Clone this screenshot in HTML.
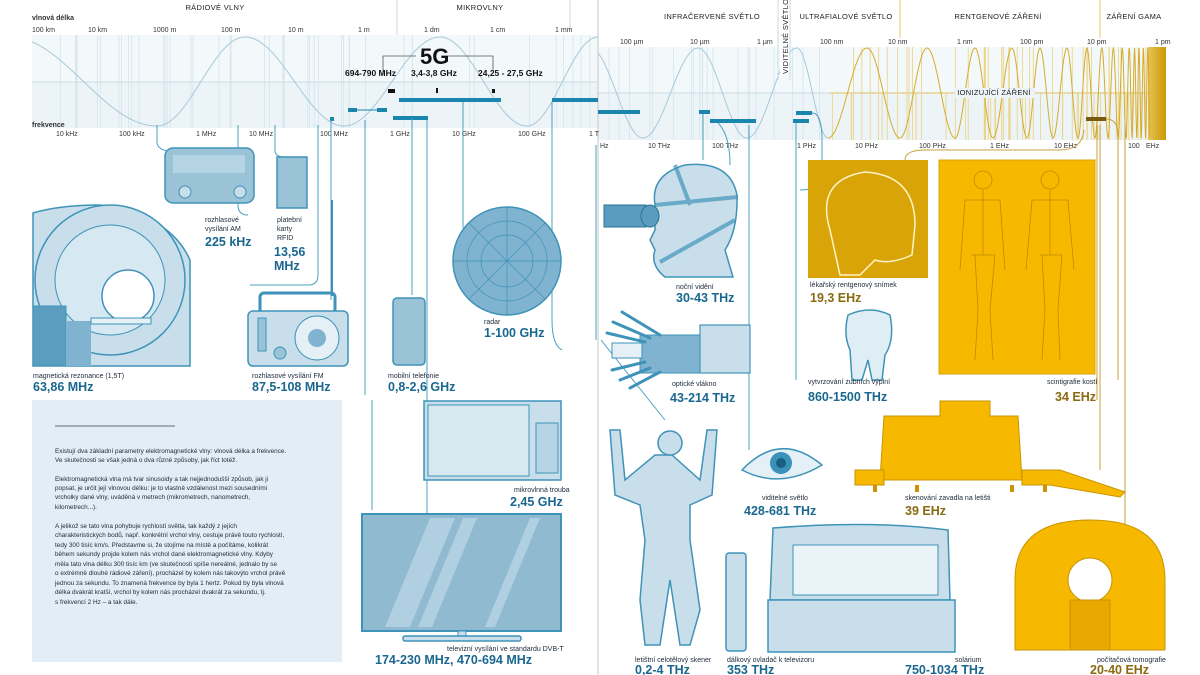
<!DOCTYPE html>
<html><head><meta charset="utf-8"><style>
html,body{margin:0;padding:0;background:#fff;}
svg{display:block;font-family:"Liberation Sans",sans-serif;}
.s{font-size:7px;fill:#1d2a3a;}
.b{font-size:12.5px;font-weight:bold;fill:#1a6790;}
.y{font-size:12.5px;font-weight:bold;fill:#8a6a10;}
.ax{font-size:7px;fill:#333;}
.hd{font-size:7.5px;fill:#222;letter-spacing:0.3px;}
.ln{fill:none;stroke:#4aa0c2;stroke-width:1;}
.yl{fill:none;stroke:#c9a23a;stroke-width:1;}
.dev{fill:#c8dfeb;stroke:#3f93b8;stroke-width:1.5;}
.dev2{fill:#9ac3d8;stroke:#3f93b8;stroke-width:1.5;}
.gold{fill:#f7b900;stroke:#c89400;stroke-width:1;}
</style></head><body>
<svg width="1200" height="675" viewBox="0 0 1200 675" xmlns="http://www.w3.org/2000/svg">
<defs>
<linearGradient id="gg" x1="0" x2="1"><stop offset="0" stop-color="#e8c25a"/><stop offset="1" stop-color="#c99a00"/></linearGradient>
<clipPath id="cl"><rect x="32" y="30" width="566" height="100"/></clipPath>
<clipPath id="cr"><rect x="598" y="40" width="232" height="102"/></clipPath>
</defs>
<!-- left band -->
<rect x="32" y="35" width="566" height="93" fill="#edf4f8"/>
<rect x="32" y="35" width="566" height="47" fill="#f3f8fa"/>
<line x1="32" y1="82" x2="598" y2="82" stroke="#c8dbe6"/>
<!-- right band -->
<rect x="598" y="47" width="568" height="93" fill="#edf4f8"/>
<rect x="598" y="47" width="568" height="46" fill="#f3f8fa"/>
<line x1="598" y1="93" x2="830" y2="93" stroke="#c8dbe6"/>
<line x1="830" y1="93" x2="1150" y2="93" stroke="#e0c060"/>
<g id="vl" stroke="#d4e4ed" stroke-width="0.8"></g>
<g id="vy" stroke="#ebd27f" stroke-width="0.8"></g>
<rect x="1148" y="47" width="18" height="93" fill="url(#gg)"/>
<path id="bw" fill="none" stroke="#a6c9dc" stroke-width="1" clip-path="url(#cl)"/>
<path id="bw2" fill="none" stroke="#a6c9dc" stroke-width="1" clip-path="url(#cr)"/>
<path id="yw" fill="none" stroke="#d6ac2a" stroke-width="1"/>
<rect x="955" y="88" width="80" height="10" fill="#edf4f8"/>
<!-- dividers -->
<line x1="397" y1="0" x2="397" y2="35" stroke="#c8dbe6"/>
<line x1="570" y1="0" x2="570" y2="30" stroke="#c8dbe6"/>
<line x1="598" y1="0" x2="598" y2="675" stroke="#c7c7c7"/>
<line x1="778" y1="0" x2="778" y2="80" stroke="#c8dbe6"/>
<line x1="790" y1="0" x2="790" y2="80" stroke="#c8dbe6"/>
<line x1="900" y1="0" x2="900" y2="38" stroke="#e7c86a"/>
<line x1="1100" y1="0" x2="1100" y2="38" stroke="#e7c86a"/>
<!-- headers -->
<text class="hd" x="215" y="10" text-anchor="middle">RÁDIOVÉ VLNY</text>
<text class="hd" x="480" y="10" text-anchor="middle">MIKROVLNY</text>
<text class="hd" x="712" y="19" text-anchor="middle">INFRAČERVENÉ SVĚTLO</text>
<text class="hd" x="846" y="19" text-anchor="middle">ULTRAFIALOVÉ SVĚTLO</text>
<text class="hd" x="998" y="19" text-anchor="middle">RENTGENOVÉ ZÁŘENÍ</text>
<text class="hd" x="1134" y="19" text-anchor="middle">ZÁŘENÍ GAMA</text>
<rect x="780" y="8" width="9" height="68" fill="#fff"/>
<text class="hd" x="0" y="0" transform="translate(788,74) rotate(-90)">VIDITELNÉ SVĚTLO</text>
<text class="hd" x="994" y="95" text-anchor="middle">IONIZUJÍCÍ ZÁŘENÍ</text>
<text class="ax" x="32" y="20" font-weight="bold">vlnová délka</text>
<text class="ax" x="32" y="127" font-weight="bold">frekvence</text>
<g class="ax">
<text x="32" y="32">100 km</text><text x="88" y="32">10 km</text><text x="153" y="32">1000 m</text><text x="221" y="32">100 m</text><text x="288" y="32">10 m</text><text x="358" y="32">1 m</text><text x="424" y="32">1 dm</text><text x="490" y="32">1 cm</text><text x="555" y="32">1 mm</text>
<text x="620" y="44">100 µm</text><text x="690" y="44">10 µm</text><text x="757" y="44">1 µm</text><text x="820" y="44">100 nm</text><text x="888" y="44">10 nm</text><text x="957" y="44">1 nm</text><text x="1020" y="44">100 pm</text><text x="1087" y="44">10 pm</text><text x="1155" y="44">1 pm</text>
<text x="56" y="136">10 kHz</text><text x="119" y="136">100 kHz</text><text x="196" y="136">1 MHz</text><text x="249" y="136">10 MHz</text><text x="320" y="136">100 MHz</text><text x="390" y="136">1 GHz</text><text x="452" y="136">10 GHz</text><text x="518" y="136">100 GHz</text><text x="589" y="136">1 T</text>
<text x="600" y="148">Hz</text><text x="648" y="148">10 THz</text><text x="712" y="148">100 THz</text><text x="797" y="148">1 PHz</text><text x="855" y="148">10 PHz</text><text x="919" y="148">100 PHz</text><text x="990" y="148">1 EHz</text><text x="1054" y="148">10 EHz</text><text x="1128" y="148">100</text><text x="1146" y="148">EHz</text>
</g>
<!-- 5G -->
<text x="420" y="64" font-size="22" font-weight="bold" fill="#111">5G</text>
<path d="M383,75 V56 H416 M448,56 H493 V71" fill="none" stroke="#555" stroke-width="0.8"/>
<text x="345" y="76" font-size="8.5" font-weight="bold" fill="#111">694-790 MHz</text>
<text x="411" y="76" font-size="8.5" font-weight="bold" fill="#111">3,4-3,8 GHz</text>
<text x="478" y="76" font-size="8.5" font-weight="bold" fill="#111">24,25 - 27,5 GHz</text>
<rect x="388" y="89" width="7" height="4" fill="#111"/><rect x="436" y="88" width="2" height="5" fill="#111"/><rect x="492" y="89" width="3" height="4" fill="#111"/>
<!-- bars -->
<g fill="#1a86ad">
<rect x="399" y="98" width="102" height="4"/><rect x="552" y="98" width="46" height="4"/>
<rect x="348" y="108" width="9" height="4"/><rect x="377" y="108" width="10" height="4"/><rect x="357" y="109.5" width="20" height="1"/>
<rect x="330" y="117" width="4" height="4"/><rect x="393" y="116" width="35" height="4"/>
<rect x="598" y="110" width="42" height="4"/><rect x="699" y="110" width="11" height="4"/><rect x="710" y="119" width="46" height="4"/>
<rect x="796" y="111" width="16" height="4"/><rect x="793" y="119" width="16" height="4"/>
</g>
<rect x="1086" y="117" width="20" height="4" fill="#7a5a10"/>
<!-- connectors -->
<g class="ln">
<path d="M157,125 V142 Q157,150 172,152"/>
<path d="M238,125 V205 Q238,215 248,215"/>
<path d="M275,125 V150 Q275,157 285,157"/>
<path d="M318,125 V275 Q318,285 308,285 L250,285"/>
<path d="M331,120 V300"/>
<path d="M365,120 V395"/><path d="M372,400 V510"/>
<path d="M412,118 V295"/>
<path d="M427,120 V600"/>
<path d="M463,102 V228"/>
<path d="M552,102 V320 Q552,345 562,350"/>
<path d="M703,114 V160"/><path d="M718,123 Q730,135 730,165"/>
<path d="M749,125 V450"/><path d="M812,113 Q822,113 822,140 V175 Q822,190 800,190"/>
<path d="M796,123 V380"/>
<path d="M596,145 V340"/>
<path d="M601,340 L665,420"/>
</g>
<g class="yl">
<path d="M1106,119 Q1118,119 1118,135 V380"/><path d="M1097,125 V400"/><path d="M1100,125 V470"/><path d="M1084,130 Q1082,150 1060,150 L925,150 Q905,150 905,160"/><path d="M1125,125 V560"/>
</g>
<!-- MRI -->
<path class="dev" d="M33,213 Q60,205 100,205 Q170,215 190,260 L190,366 L33,366 Z"/>
<circle cx="110" cy="280" r="75" class="dev"/>
<circle cx="110" cy="280" r="55" fill="#d6e8f1" stroke="#3f93b8"/>
<circle cx="128" cy="296" r="26" fill="#fff" stroke="#3f93b8" stroke-width="1.5"/>
<rect x="33" y="306" width="33" height="60" fill="#5b9dbf" stroke="#3f93b8"/>
<rect x="66" y="321" width="25" height="45" fill="#7fb3cf"/>
<rect x="91" y="318" width="60" height="6" fill="#e4f0f6" stroke="#3f93b8"/>
<!-- AM radio -->
<rect x="165" y="148" width="89" height="55" rx="8" class="dev2"/>
<rect x="173" y="155" width="72" height="18" fill="#b5d4e4"/>
<circle cx="185" cy="192" r="6" fill="#c8dfeb" stroke="#3f93b8"/><circle cx="240" cy="192" r="6" fill="#c8dfeb" stroke="#3f93b8"/>
<text class="s" x="205" y="222">rozhlasové</text><text class="s" x="205" y="231">vysílání AM</text>
<text class="b" x="205" y="246">225 kHz</text>
<!-- card -->
<rect x="277" y="157" width="30" height="51" class="dev2"/>
<text class="s" x="277" y="222">platební</text><text class="s" x="277" y="231">karty</text><text class="s" x="277" y="240">RFID</text>
<text class="b" x="274" y="256">13,56</text><text class="b" x="274" y="270">MHz</text>
<text class="s" x="33" y="378">magnetická rezonance (1,5T)</text><text class="b" x="33" y="391">63,86 MHz</text>
<!-- FM radio -->
<line x1="332" y1="200" x2="332" y2="296" stroke="#3f93b8" stroke-width="2"/>
<rect x="260" y="293" width="75" height="20" rx="4" fill="none" stroke="#3f93b8" stroke-width="3"/>
<rect x="248" y="311" width="100" height="55" rx="5" class="dev"/>
<circle cx="317" cy="338" r="22" fill="#e4f0f6" stroke="#3f93b8"/><circle cx="317" cy="338" r="9" fill="#7fb3cf"/>
<rect x="258" y="318" width="8" height="33" fill="#9ac3d8" stroke="#3f93b8"/><circle cx="280" cy="353" r="6" fill="#9ac3d8" stroke="#3f93b8"/>
<text class="s" x="252" y="378">rozhlasové vysílání FM</text><text class="b" x="252" y="391">87,5-108 MHz</text>
<!-- phone -->
<rect x="393" y="298" width="32" height="67" rx="4" class="dev2"/>
<text class="s" x="388" y="378">mobilní telefonie</text><text class="b" x="388" y="391">0,8-2,6 GHz</text>
<!-- radar -->
<circle cx="507" cy="261" r="54" fill="#7fb3cf" stroke="#3f93b8" stroke-width="1.5"/>
<circle cx="507" cy="261" r="40" fill="none" stroke="#3f93b8" stroke-width="0.7"/><circle cx="507" cy="261" r="26" fill="none" stroke="#3f93b8" stroke-width="0.7"/>
<path d="M453,261 H561 M507,207 V315 M469,223 L545,299 M545,223 L469,299" stroke="#3f93b8" stroke-width="0.7"/>
<text class="s" x="484" y="324">radar</text><text class="b" x="484" y="337">1-100 GHz</text>
<!-- text box -->
<rect x="32" y="400" width="310" height="262" fill="#e2edf5"/>
<line x1="55" y1="426" x2="175" y2="426" stroke="#8a98a3" stroke-width="1.5"/>
<g font-size="6.4" fill="#1d2a3a">
<text x="55" y="453">Existují dva základní parametry elektromagnetické vlny: vlnová délka a frekvence.</text>
<text x="55" y="462">Ve skutečnosti se však jedná o dva různé způsoby, jak říct totéž.</text>
<text x="55" y="481">Elektromagnetická vlna má tvar sinusoidy a tak nejjednodušší způsob, jak ji</text>
<text x="55" y="490">popsat, je určit její vlnovou délku: je to vlastně vzdálenost mezi sousedními</text>
<text x="55" y="499">vrcholky dané vlny, uváděná v metrech (mikrometrech, nanometrech,</text>
<text x="55" y="509">kilometrech...).</text>
<text x="55" y="528">A jelikož se tato vlna pohybuje rychlostí světla, tak každý z jejích</text>
<text x="55" y="537">charakteristických bodů, např. konkrétní vrchol vlny, cestuje právě touto rychlostí,</text>
<text x="55" y="547">tedy 300 tisíc km/s. Představme si, že stojíme na místě a počítáme, kolikrát</text>
<text x="55" y="556">během sekundy projde kolem nás vrchol dané elektromagnetické vlny. Kdyby</text>
<text x="55" y="566">měla tato vlna délku 300 tisíc km (ve skutečnosti spíše nereálné, jednalo by se</text>
<text x="55" y="575">o extrémně dlouhé rádiové záření), procházel by kolem nás takovýto vrchol právě</text>
<text x="55" y="585">jednou za sekundu. To znamená frekvence by byla 1 hertz. Pokud by byla vlnová</text>
<text x="55" y="594">délka dvakrát kratší, vrchol by kolem nás procházel dvakrát za sekundu, tj.</text>
<text x="55" y="604">s frekvencí 2 Hz – a tak dále.</text>
</g>
<!-- microwave -->
<rect x="424" y="401" width="137" height="79" class="dev"/>
<rect x="428" y="405" width="101" height="71" fill="#d8e8f1" stroke="#3f93b8"/>
<rect x="536" y="423" width="22" height="50" fill="#b5d4e4" stroke="#3f93b8"/>
<text class="s" x="514" y="492">mikrovlnná trouba</text><text class="b" x="510" y="506">2,45 GHz</text>
<!-- TV -->
<rect x="362" y="514" width="199" height="117" fill="#8fbad0" stroke="#3f93b8" stroke-width="2"/>
<path d="M430,518 L455,518 L410,627 L385,627 Z M463,518 L477,518 L432,627 L418,627 Z M530,518 L540,518 L495,627 L485,627 Z" fill="#b0cfe0"/>
<rect x="458" y="631" width="8" height="6" fill="#c8dfeb" stroke="#3f93b8"/>
<rect x="403" y="636" width="118" height="5" rx="2" class="dev"/>
<text class="s" x="447" y="651">televizní vysílání ve standardu DVB-T</text>
<text class="b" x="375" y="664">174-230 MHz, 470-694 MHz</text>
<!-- night vision head -->
<path class="dev" d="M655,205 Q650,175 685,165 Q730,160 737,195 Q738,230 725,250 L733,277 L665,277 Q650,265 655,250 L650,240 L655,230 Z"/>
<rect x="604" y="205" width="42" height="22" fill="#5a9cc0" stroke="#2e6f91"/>
<ellipse cx="650" cy="216" rx="9" ry="11" fill="#5a9cc0" stroke="#2e6f91"/>
<path d="M655,205 L738,197 M660,262 L735,220 M675,165 L690,205" stroke="#3f93b8" stroke-width="4" fill="none" opacity="0.7"/>
<text class="s" x="676" y="289">noční vidění</text><text class="b" x="676" y="302">30-43 THz</text>
<!-- fiber -->
<rect x="700" y="325" width="50" height="48" fill="#c8dfeb" stroke="#3f93b8" stroke-width="1.2"/>
<path d="M640,335 H700 V373 H640 Z" fill="#7fb3cf" stroke="#3f93b8"/>
<rect x="612" y="343" width="30" height="15" fill="#e4f0f6" stroke="#3f93b8"/>
<g stroke="#3f93b8" stroke-width="3" stroke-linecap="round"><line x1="622" y1="312" x2="660" y2="335"/><line x1="613" y1="322" x2="650" y2="338"/><line x1="607" y1="333" x2="645" y2="342"/><line x1="612" y1="370" x2="645" y2="362"/><line x1="620" y1="380" x2="650" y2="368"/><line x1="630" y1="388" x2="660" y2="372"/></g>
<text class="s" x="672" y="386">optické vlákno</text><text class="b" x="670" y="402">43-214 THz</text>
<!-- man -->
<path class="dev" d="M610,430 L620,430 L625,480 L655,455 L672,455 L700,480 L707,430 L717,430 L712,495 L690,505 L690,540 L700,610 L690,645 L680,645 L670,580 L660,645 L645,645 L640,600 L645,540 L640,505 L615,495 Z"/>
<circle cx="670" cy="443" r="12" class="dev"/>
<text class="s" x="635" y="662">letištní celotělový skener</text><text class="b" x="635" y="674">0,2-4 THz</text>
<!-- remote -->
<rect x="726" y="553" width="20" height="98" rx="3" class="dev"/>
<text class="s" x="727" y="662">dálkový ovladač k televizoru</text><text class="b" x="727" y="674">353 THz</text>
<!-- eye -->
<path d="M742,470 Q780,430 822,465 Q780,490 742,470 Z" fill="#e4f0f6" stroke="#3f93b8" stroke-width="1.5"/>
<circle cx="781" cy="463" r="11" fill="#3a92ba"/><circle cx="781" cy="463" r="5" fill="#1a5f80"/>
<text class="s" x="762" y="500">viditelné světlo</text><text class="b" x="744" y="515">428-681 THz</text>
<!-- solarium -->
<path class="dev" d="M773,528 Q870,520 948,530 L950,600 L770,600 Z"/>
<rect x="793" y="545" width="145" height="50" fill="#eaf3f8" stroke="#3f93b8"/>
<rect x="768" y="600" width="187" height="52" class="dev"/>
<text class="s" x="955" y="662">solárium</text><text class="b" x="905" y="674">750-1034 THz</text>
<!-- skull -->
<rect x="808" y="160" width="120" height="118" fill="#d9a407"/>
<path d="M830,230 Q815,180 865,172 Q915,175 915,225 L912,255 Q890,265 875,260 L860,275 L840,275 Z" fill="none" stroke="#fff4c8" stroke-width="1.5"/>
<text class="s" x="810" y="287">lékařský rentgenový snímek</text><text class="y" x="810" y="302">19,3 EHz</text>
<!-- tooth -->
<path d="M848,315 Q870,305 890,315 Q895,340 885,355 L882,380 L872,380 L868,360 L862,380 L852,380 L850,350 Q843,335 848,315 Z" fill="#dfedf5" stroke="#3f93b8" stroke-width="1.5"/>
<text class="s" x="808" y="384">vytvrzování zubních výplní</text><text class="b" x="808" y="401">860-1500 THz</text>
<!-- skeleton -->
<rect x="939" y="160" width="156" height="214" fill="#f7b900" stroke="#d9a407"/>
<g fill="none" stroke="#c08a00" stroke-width="0.8">
<circle cx="983" cy="180" r="9"/><path d="M983,190 V255 M965,200 H1000 M965,200 L960,270 M1000,200 L1005,270 M972,255 H995 L990,310 L993,360 M975,255 L978,310 L975,360"/>
<circle cx="1050" cy="180" r="9"/><path d="M1050,190 V255 M1032,200 H1068 M1032,200 L1026,270 M1068,200 L1074,270 M1040,255 H1062 L1058,310 L1060,360 M1042,255 L1045,310 L1042,360"/>
</g>
<text class="s" x="1047" y="384">scintigrafie kostí</text><text class="y" x="1055" y="401">34 EHz</text>
<!-- baggage scanner -->
<path class="gold" d="M940,401 H990 V416 H1018 L1022,480 H880 L884,416 H940 Z"/>
<path class="gold" d="M855,470 H884 V485 H855 Z M1022,470 H1060 L1125,492 L1120,497 L1050,485 H1022 Z"/>
<g fill="#c89400"><rect x="873" y="485" width="4" height="7"/><rect x="915" y="485" width="4" height="7"/><rect x="1010" y="485" width="4" height="7"/><rect x="1043" y="485" width="4" height="7"/></g>
<text class="s" x="905" y="500">skenování zavadla na letišti</text><text class="y" x="905" y="515">39 EHz</text>
<!-- CT -->
<path class="gold" d="M1015,650 V580 Q1015,520 1090,520 Q1165,520 1165,580 V650 Z"/>
<circle cx="1090" cy="580" r="22" fill="#fff" stroke="#c89400"/>
<rect x="1070" y="600" width="40" height="50" fill="#e8a800" stroke="#c89400"/>
<text class="s" x="1097" y="662">počítačová tomografie</text><text class="y" x="1090" y="674">20-40 EHz</text>
</svg>
<script>
(function(){
 var ns="http://www.w3.org/2000/svg";
 function build(ext,top,bot,startTop){
   var d="";var mid=(top+bot)/2,a=(bot-top)/2;
   for(var i=0;i < ext.length-1;i++){
     var x0=ext[i],x1=ext[i+1];
     var isTop=((i%2)==0)==startTop;
     for(var x=x0;x <= x1;x+=0.5){
       var t=(x-x0)/(x1-x0);var c=Math.cos(Math.PI*t);
       var y=isTop? mid-a*c : mid+a*c;
       d+=(d?"L":"M")+x.toFixed(1)+","+y.toFixed(1);
     }
   }
   return d;
 }
 document.getElementById("bw").setAttribute("d",build([10,157,245,344,440,527,598],37,126,true));
 document.getElementById("bw2").setAttribute("d",build([590,643,698,747,797,828],48,138,true));
 var ye=[828,867,900,927,955,975,993,1012,1027,1040,1053,1067,1078,1087];
 var h=9,x=1087;while(x < 1148){h=Math.max(2.2,h*0.88);x+=h;ye.push(x);}
 document.getElementById("yw").setAttribute("d",build(ye,48,138,false));
 var g=document.getElementById("vl"),gy=document.getElementById("vy");
 function ln(p,x,y1,y2){var l=document.createElementNS(ns,"line");l.setAttribute("x1",x);l.setAttribute("x2",x);l.setAttribute("y1",y1);l.setAttribute("y2",y2);p.appendChild(l);}
 var seed=7;function r(){seed=(seed*9301+49297)%233280;return seed/233280;}
 for(var i=0;i < 45;i++){ln(g,32+r()*566,35,128);}
 for(var i=0;i < 22;i++){ln(g,598+r()*232,47,140);}
 for(var i=0;i < 70;i++){var xx=830+Math.pow(r(),0.7)*318;ln(gy,xx,r() < 0.5?47:93,140);}
})();
</script>
</body></html>
